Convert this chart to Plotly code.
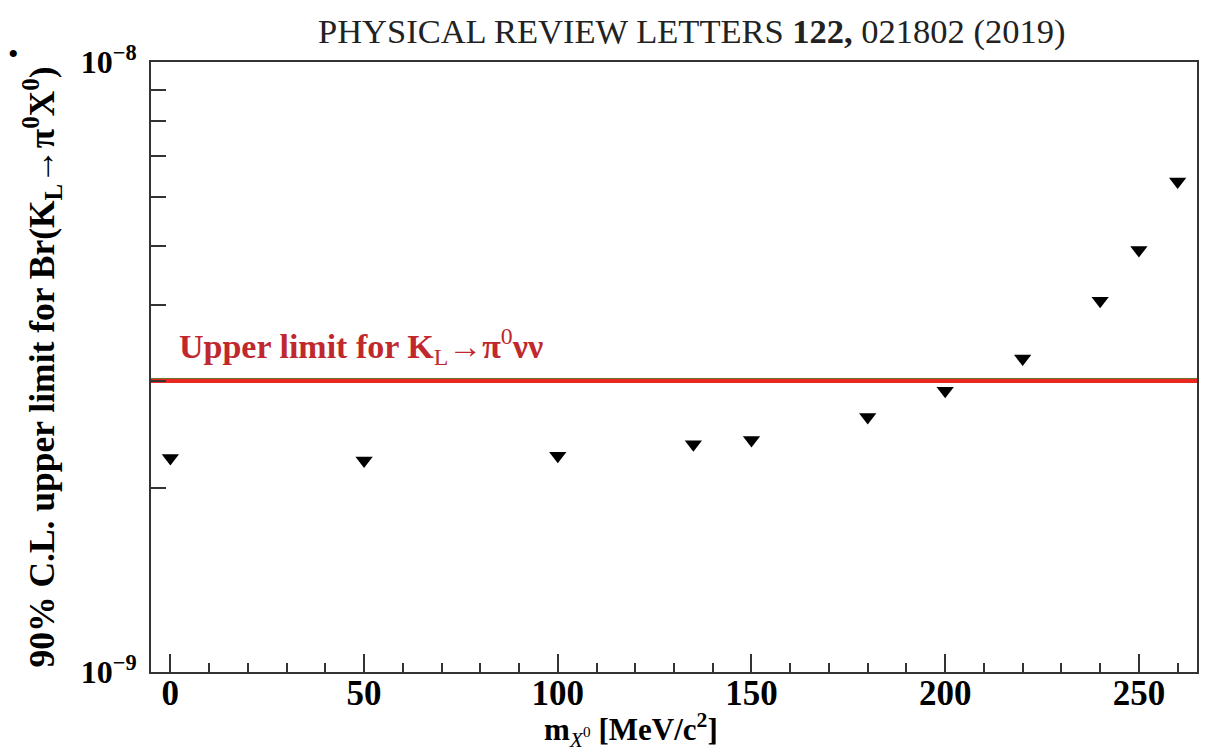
import plotly.graph_objects as go

# Data
mass = [0, 50, 100, 135, 150, 180, 200, 220, 240, 250, 260]
upper_limit = [2.244e-9, 2.222e-9, 2.262e-9, 2.362e-9, 2.401e-9, 2.618e-9,
               2.891e-9, 3.264e-9, 4.062e-9, 4.918e-9, 6.37e-9]
kl_pi0nunu_limit = 3.0e-9
x_range = [-5, 265]
y_major = [1e-9, 1e-8]
y_major_text = ["10<sup>−9</sup>", "10<sup>−8</sup>"]
y_minor = [2e-9, 3e-9, 4e-9, 5e-9, 6e-9, 7e-9, 8e-9, 9e-9]

SERIF = "Liberation Serif, Times New Roman, serif"

fig = go.Figure()

fig.add_trace(go.Scatter(
    x=x_range, y=[kl_pi0nunu_limit, kl_pi0nunu_limit],
    mode="lines", line=dict(color="#e8281e", width=4),
    hoverinfo="skip", showlegend=False, cliponaxis=False,
))

fig.add_trace(go.Scatter(
    x=mass, y=upper_limit, mode="markers",
    marker=dict(symbol="triangle-down", size=15, color="black"),
    showlegend=False,
))

fig.update_layout(
    width=1214, height=752,
    margin=dict(l=151, r=17, t=62, b=80),
    paper_bgcolor="white", plot_bgcolor="white",
    font=dict(family=SERIF, color="black"),
    xaxis=dict(
        range=x_range, showgrid=False, zeroline=False,
        showline=True, linecolor="#333333", linewidth=2, mirror=True,
        ticks="inside", ticklen=18, tickwidth=1.5, tickcolor="#333333",
        tickvals=[0, 50, 100, 150, 200, 250],
        tickfont=dict(family=SERIF, size=35, color="black", weight="bold"),
        ticklabelstandoff=-11,
        minor=dict(ticks="inside", ticklen=9, tickwidth=1.5, tickcolor="#333333",
                   dtick=10, tick0=0),
    ),
    yaxis=dict(
        type="log", range=[-9, -8], showgrid=False, zeroline=False,
        showline=True, linecolor="#333333", linewidth=2, mirror=True,
        ticks="inside", ticklen=26, tickwidth=1.5, tickcolor="#333333",
        tickvals=y_major, ticktext=y_major_text,
        tickfont=dict(family=SERIF, size=32, color="black", weight="bold"),
        ticklabelstandoff=6,
        minor=dict(ticks="inside", ticklen=15, tickwidth=1.5, tickcolor="#333333",
                   tickvals=y_minor),
        title=dict(
            text="90% C.L. upper limit for Br(K<sub>L</sub>→π<sup>0</sup>X<sup>0</sup>)",
            font=dict(family=SERIF, size=35.5, color="black", weight="bold"),
            standoff=15,
        ),
    ),
    shapes=[dict(
        type="line", xref="paper", x0=0, x1=1, yref="y",
        ysizemode="pixel", yanchor=kl_pi0nunu_limit, y0=2.5, y1=2.5,
        line=dict(color="#6b6b2a", width=1),
    )],
    annotations=[
        dict(text="PHYSICAL REVIEW LETTERS <b>122,</b> 021802 (2019)",
             xref="paper", yref="paper", x=0.517, y=1.0, yshift=31,
             xanchor="center", yanchor="middle", showarrow=False,
             font=dict(family=SERIF, size=34.5, color="#222222")),
        dict(text="•", xref="paper", yref="paper", x=-0.131, y=1.0, yshift=9,
             xanchor="center", yanchor="middle", showarrow=False,
             font=dict(family=SERIF, size=30, color="black")),
        dict(text="<b>Upper limit for K</b><sub>L</sub><b>→π</b><sup>0</sup><b>νν</b>",
             xref="paper", yref="paper", x=0.0249, y=0.534,
             xanchor="left", yanchor="middle", showarrow=False,
             font=dict(family=SERIF, size=34, color="#c0282d")),
        dict(text="<b>m</b><sub><i>X</i><sup>0</sup></sub><b> [MeV/c</b><sup><b>2</b></sup><b>]</b>",
             xref="paper", yref="paper", x=0.459, y=0, yshift=-58,
             xanchor="center", yanchor="middle", showarrow=False,
             font=dict(family=SERIF, size=31, color="black")),
    ],
)

fig.write_html("out.html")
